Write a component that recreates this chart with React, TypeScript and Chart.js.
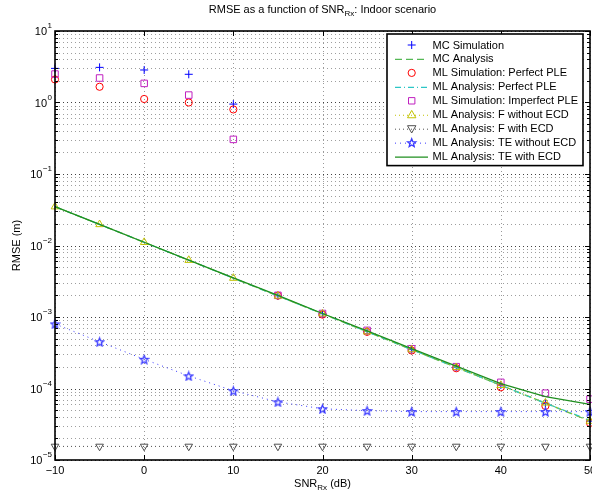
import React, { useEffect, useRef } from "react";
import { Chart, registerables } from "chart.js";

Chart.register(...registerables);

// ---------------- data ----------------
const snr = [-10, -5, 0, 5, 10, 15, 20, 25, 30, 35, 40, 45, 50];

const mcSimulation = [3.0, 3.1, 2.85, 2.48, 0.95, 0.00198, 0.00111, 0.00063, 0.00035, 0.000198, 0.000112, 0.000062, 0.000035];
const mcAnalysis = [0.0349, 0.0197, 0.0111, 0.00623, 0.0035, 0.00197, 0.00111, 0.000623, 0.00035, 0.000197, 0.000111, 0.0000623, 0.000035];
const mlSimPerfect = [2.1, 1.66, 1.12, 1.0, 0.8, 0.00199, 0.00108, 0.00062, 0.00034, 0.000192, 0.000104, 0.000057, 0.000033];
const mlAnalysisPerfect = [0.0349, 0.0197, 0.0111, 0.00623, 0.0035, 0.00197, 0.00111, 0.000623, 0.00035, 0.000197, 0.000111, 0.0000623, 0.000036];
const mlSimImperfect = [2.5, 2.2, 1.85, 1.27, 0.305, 0.00201, 0.00112, 0.00065, 0.00036, 0.000202, 0.000122, 0.000086, 0.000071];
const fWithoutEcd = [0.0349, 0.0197, 0.0111, 0.00623, 0.0035, 0.00197, 0.00111, 0.000623, 0.00035, 0.000197, 0.000111, 0.000063, 0.000035];
const fWithEcd = [1.55e-5, 1.55e-5, 1.55e-5, 1.55e-5, 1.55e-5, 1.55e-5, 1.55e-5, 1.55e-5, 1.55e-5, 1.55e-5, 1.55e-5, 1.55e-5, 1.55e-5];
const teWithoutEcd = [0.0008, 0.00045, 0.000256, 0.00015, 0.000093, 0.000065, 0.000052, 0.000049, 0.0000475, 0.0000475, 0.0000475, 0.0000475, 0.0000475];
const teWithEcd = [0.0349, 0.0197, 0.0111, 0.00625, 0.00353, 0.002, 0.00112, 0.00064, 0.00036, 0.000205, 0.000117, 0.000077, 0.00006];

const legendLabels = [
  "MC Simulation",
  "MC Analysis",
  "ML Simulation: Perfect PLE",
  "ML Analysis: Perfect PLE",
  "ML Simulation: Imperfect PLE",
  "ML Analysis: F without ECD",
  "ML Analysis: F with ECD",
  "ML Analysis: TE without ECD",
  "ML Analysis: TE with ECD",
];

const xTickValues = [-10, 0, 10, 20, 30, 40, 50];
const yTickExponents = [1, 0, -1, -2, -3, -4, -5];

const titleParts = ["RMSE as a function of SNR", "Rx", ": Indoor scenario"];
const xLabelParts = ["SNR", "Rx", " (dB)"];
const yLabel = "RMSE (m)";

// ---------------- styles ----------------
const FONT = '"Liberation Sans", Arial, Helvetica, sans-serif';

type Marker = "plus" | "circle" | "square" | "tri" | "dtri" | "star" | "none";

const seriesStyle: { color: string; marker: Marker; dash: number[] | null; width: number }[] = [
  { color: "#0000ff", marker: "plus", dash: null, width: 1 },
  { color: "#55b855", marker: "none", dash: [7, 4], width: 1.3 },
  { color: "#ff0000", marker: "circle", dash: null, width: 1 },
  { color: "#2cc6c6", marker: "none", dash: [6, 3, 1, 3], width: 1.2 },
  { color: "#c020c0", marker: "square", dash: null, width: 1 },
  { color: "#c2c200", marker: "tri", dash: [1, 3], width: 1 },
  { color: "#505050", marker: "dtri", dash: [1, 3], width: 1 },
  { color: "#3a3aff", marker: "star", dash: [1, 4], width: 1 },
  { color: "#1f8f1f", marker: "none", dash: null, width: 1.3 },
];

function starPath(ctx: CanvasRenderingContext2D, cx: number, cy: number, ro: number, ri: number) {
  ctx.beginPath();
  for (let k = 0; k < 10; k++) {
    const r = k % 2 === 0 ? ro : ri;
    const a = -Math.PI / 2 + (k * Math.PI) / 5;
    const px = cx + r * Math.cos(a);
    const py = cy + r * Math.sin(a);
    if (k === 0) ctx.moveTo(px, py);
    else ctx.lineTo(px, py);
  }
  ctx.closePath();
}

function makeStarCanvas(color: string) {
  const c = document.createElement("canvas");
  c.width = 11;
  c.height = 11;
  const ctx = c.getContext("2d")!;
  starPath(ctx, 5.5, 6, 4.3, 1.9);
  ctx.strokeStyle = color;
  ctx.lineWidth = 1.3;
  ctx.stroke();
  return c;
}

function drawMarker(ctx: CanvasRenderingContext2D, m: Marker, x: number, y: number, color: string) {
  ctx.save();
  ctx.setLineDash([]);
  ctx.strokeStyle = color;
  ctx.lineWidth = 1;
  ctx.beginPath();
  if (m === "plus") {
    ctx.moveTo(x - 4, y);
    ctx.lineTo(x + 4, y);
    ctx.moveTo(x, y - 4);
    ctx.lineTo(x, y + 4);
    ctx.stroke();
  } else if (m === "circle") {
    ctx.arc(x, y, 3.6, 0, Math.PI * 2);
    ctx.stroke();
  } else if (m === "square") {
    ctx.rect(x - 3.2, y - 3.2, 6.4, 6.4);
    ctx.stroke();
  } else if (m === "tri" || m === "dtri") {
    const s = m === "tri" ? 1 : -1;
    ctx.moveTo(x, y - 4.3 * s);
    ctx.lineTo(x + 4.2, y + 3 * s);
    ctx.lineTo(x - 4.2, y + 3 * s);
    ctx.closePath();
    ctx.stroke();
  } else if (m === "star") {
    starPath(ctx, x, y + 0.5, 4.3, 1.9);
    ctx.lineWidth = 1.3;
    ctx.stroke();
  }
  ctx.restore();
}

const seriesValues = [mcSimulation, mcAnalysis, mlSimPerfect, mlAnalysisPerfect, mlSimImperfect, fWithoutEcd, fWithEcd, teWithoutEcd, teWithEcd];

function drawParts(
  ctx: CanvasRenderingContext2D,
  parts: string[],
  cx: number,
  cy: number,
  big: number,
  small: number,
  subOffset: number
) {
  ctx.save();
  ctx.textBaseline = "middle";
  ctx.textAlign = "left";
  const widths = parts.map((p, i) => {
    ctx.font = `${i === 1 ? small : big}px ${FONT}`;
    return ctx.measureText(p).width;
  });
  const total = widths.reduce((a, b) => a + b, 0);
  let x = cx - total / 2;
  parts.forEach((p, i) => {
    ctx.font = `${i === 1 ? small : big}px ${FONT}`;
    ctx.fillStyle = "#000";
    ctx.fillText(p, x, i === 1 ? cy + subOffset : cy);
    x += widths[i];
  });
  ctx.restore();
}

const axesPlugin = {
  id: "matlabAxes",
  beforeDatasetsDraw(chart: any) {
    const { ctx, chartArea } = chart;
    const { left, right, top, bottom } = chartArea;
    const xs = chart.scales.x;
    const ys = chart.scales.y;
    ctx.save();
    ctx.fillStyle = "#fff";
    ctx.fillRect(left, top, right - left, bottom - top);
    ctx.lineWidth = 1;
    ctx.setLineDash([1, 3]);
    // minor horizontal grid
    const exps = yTickExponents.slice().sort((a, b) => a - b);
    for (let i = 0; i < exps.length - 1; i++) {
      for (let m = 2; m <= 9; m++) {
        const py = Math.round(ys.getPixelForValue(m * Math.pow(10, exps[i]))) + 0.5;
        ctx.strokeStyle = "rgba(0,0,0,0.38)";
        ctx.beginPath();
        ctx.moveTo(left, py);
        ctx.lineTo(right, py);
        ctx.stroke();
      }
    }
    // major horizontal grid
    for (const e of yTickExponents) {
      const py = Math.round(ys.getPixelForValue(Math.pow(10, e))) + 0.5;
      ctx.strokeStyle = "rgba(0,0,0,0.75)";
      ctx.beginPath();
      ctx.moveTo(left, py);
      ctx.lineTo(right, py);
      ctx.stroke();
    }
    // vertical grid
    for (const v of xTickValues) {
      const px = Math.round(xs.getPixelForValue(v)) + 0.5;
      ctx.strokeStyle = "rgba(0,0,0,0.4)";
      ctx.beginPath();
      ctx.moveTo(px, top);
      ctx.lineTo(px, bottom);
      ctx.stroke();
    }
    ctx.restore();
  },
  afterDatasetsDraw(chart: any) {
    const { ctx, chartArea } = chart;
    const { left, right, top, bottom } = chartArea;
    const xs = chart.scales.x;
    const ys = chart.scales.y;
    ctx.save();
    ctx.setLineDash([]);
    ctx.strokeStyle = "#000";
    ctx.lineWidth = 1;
    // ticks y
    const exps = yTickExponents.slice().sort((a, b) => a - b);
    for (let i = 0; i < exps.length; i++) {
      const pyM = Math.round(ys.getPixelForValue(Math.pow(10, exps[i]))) + 0.5;
      ctx.beginPath();
      ctx.moveTo(left, pyM);
      ctx.lineTo(left + 5, pyM);
      ctx.moveTo(right, pyM);
      ctx.lineTo(right - 5, pyM);
      ctx.stroke();
      if (i < exps.length - 1) {
        for (let m = 2; m <= 9; m++) {
          const py = Math.round(ys.getPixelForValue(m * Math.pow(10, exps[i]))) + 0.5;
          ctx.beginPath();
          ctx.moveTo(left, py);
          ctx.lineTo(left + 3, py);
          ctx.moveTo(right, py);
          ctx.lineTo(right - 3, py);
          ctx.stroke();
        }
      }
    }
    // ticks x
    for (const v of xTickValues) {
      const px = Math.round(xs.getPixelForValue(v)) + 0.5;
      ctx.beginPath();
      ctx.moveTo(px, bottom);
      ctx.lineTo(px, bottom - 5);
      ctx.moveTo(px, top);
      ctx.lineTo(px, top + 5);
      ctx.stroke();
    }
    // box
    ctx.lineWidth = 1.6;
    ctx.strokeRect(left, top, right - left, bottom - top);

    // x tick labels
    ctx.fillStyle = "#000";
    ctx.font = `11px ${FONT}`;
    ctx.textAlign = "center";
    ctx.textBaseline = "middle";
    for (const v of xTickValues) {
      const px = xs.getPixelForValue(v);
      const t = v < 0 ? "\u2212" + Math.abs(v) : String(v);
      ctx.fillText(t, px, bottom + 11);
    }
    // y tick labels
    for (const e of yTickExponents) {
      const py = ys.getPixelForValue(Math.pow(10, e));
      const expText = e < 0 ? "\u2212" + Math.abs(e) : String(e);
      ctx.font = `8px ${FONT}`;
      const ew = ctx.measureText(expText).width;
      ctx.font = `11px ${FONT}`;
      const bw = ctx.measureText("10").width;
      const rightEdge = left - 3;
      const ex = rightEdge - ew;
      const bx = ex - bw - 0.5;
      ctx.textAlign = "left";
      ctx.font = `11px ${FONT}`;
      ctx.fillText("10", bx, py + 1);
      ctx.font = `8px ${FONT}`;
      ctx.fillText(expText, ex, py - 5);
    }
    ctx.restore();

    // title and axis labels
    const cx = (left + right) / 2;
    drawParts(ctx, titleParts, cx, 10, 11, 8, 4);
    drawParts(ctx, xLabelParts, cx, bottom + 24, 11, 8, 4);
    ctx.save();
    ctx.translate(17, (top + bottom) / 2);
    ctx.rotate(-Math.PI / 2);
    ctx.fillStyle = "#000";
    ctx.font = `11px ${FONT}`;
    ctx.textAlign = "center";
    ctx.textBaseline = "middle";
    ctx.fillText(yLabel, 0, 0);
    ctx.restore();
  },
  afterDraw(chart: any) {
    const { ctx, chartArea } = chart;
    const boxL = 387;
    const boxT = 34;
    const boxR = chartArea.right - 7;
    const rowH = 13.95;
    const boxB = boxT + 11 + rowH * (legendLabels.length - 1) + 9;
    ctx.save();
    ctx.fillStyle = "#fff";
    ctx.fillRect(boxL, boxT, boxR - boxL, boxB - boxT);
    ctx.strokeStyle = "#000";
    ctx.lineWidth = 1.6;
    ctx.setLineDash([]);
    ctx.strokeRect(boxL, boxT, boxR - boxL, boxB - boxT);
    legendLabels.forEach((lab, i) => {
      const st = seriesStyle[i];
      const y = boxT + 11 + i * rowH;
      if (st.dash !== null || st.marker === "none") {
        ctx.save();
        ctx.strokeStyle = st.color;
        ctx.lineWidth = st.width;
        ctx.setLineDash(st.dash || []);
        ctx.beginPath();
        ctx.moveTo(395, y + 0.5);
        ctx.lineTo(428, y + 0.5);
        ctx.stroke();
        ctx.restore();
      }
      drawMarker(ctx, st.marker, 411.7, y, st.color);
      ctx.fillStyle = "#000";
      ctx.font = `11px ${FONT}`;
      ctx.textAlign = "left";
      ctx.textBaseline = "middle";
      ctx.fillText(lab, 432.5, y + 0.5);
    });
    ctx.restore();
  },
};

export default function App() {
  const canvasRef = useRef<HTMLCanvasElement | null>(null);

  useEffect(() => {
    const canvas = canvasRef.current;
    if (!canvas) return;
    const star = makeStarCanvas(seriesStyle[7].color);
    const pointStyleFor = (m: Marker): any => {
      if (m === "plus") return "cross";
      if (m === "circle") return "circle";
      if (m === "square") return "rect";
      if (m === "tri" || m === "dtri") return "triangle";
      if (m === "star") return star;
      return false;
    };
    const radiusFor = (m: Marker) => {
      if (m === "plus") return 4;
      if (m === "circle") return 3.6;
      if (m === "square") return 4.6;
      if (m === "tri" || m === "dtri") return 4.4;
      if (m === "star") return 5;
      return 0;
    };
    const N = legendLabels.length;
    const datasets = legendLabels.map((label, i) => {
      const st = seriesStyle[i];
      const vals = seriesValues[i];
      const hasLine = st.dash !== null || st.marker === "none";
      return {
        label,
        data: snr.map((x, k) => ({ x, y: vals[k] })),
        showLine: hasLine,
        borderColor: st.color,
        backgroundColor: "rgba(0,0,0,0)",
        borderWidth: st.width,
        borderDash: st.dash || [],
        pointStyle: pointStyleFor(st.marker),
        pointRadius: radiusFor(st.marker),
        pointBorderWidth: 1,
        pointBorderColor: st.color,
        pointBackgroundColor: "rgba(0,0,0,0)",
        pointRotation: st.marker === "dtri" ? 180 : 0,
        tension: 0,
        fill: false,
        clip: false as any,
        order: N - 1 - i,
      };
    });

    const chart = new Chart(canvas, {
      type: "line",
      data: { datasets },
      options: {
        responsive: false,
        animation: false,
        devicePixelRatio: 1,
        layout: { autoPadding: false, padding: { left: 55, right: 2, top: 31, bottom: 35 } },
        plugins: {
          legend: { display: false },
          title: { display: false },
          tooltip: { enabled: false },
        },
        scales: {
          x: { type: "linear", min: -10, max: 50, display: false },
          y: { type: "logarithmic", min: 1e-5, max: 10, display: false },
        },
      },
      plugins: [axesPlugin],
    });
    return () => chart.destroy();
  }, []);

  return (
    <div style={{ position: "absolute", left: 0, top: 0, width: 592, height: 495, background: "#fff" }}>
      <canvas ref={canvasRef} width={592} height={495} style={{ width: 592, height: 495, display: "block" }} />
    </div>
  );
}
